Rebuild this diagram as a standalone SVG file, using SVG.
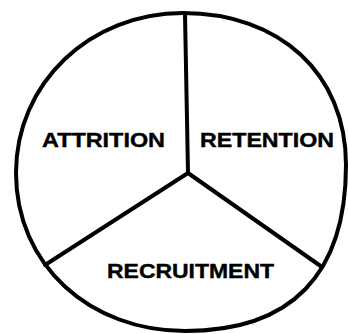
<svg xmlns="http://www.w3.org/2000/svg" width="348" height="334" viewBox="0 0 348 334">
  <style>
    .outline { fill: none; stroke: #000; stroke-width: 4; stroke-linecap: round; stroke-linejoin: round; }
    .label { font-family: "Liberation Sans", Arial, sans-serif; font-weight: bold; font-size: 20px; fill: #000; stroke: #000; stroke-width: 0.4; }
  </style>
  <rect width="348" height="334" fill="#fff"/>
  <g id="circle">
    <path class="outline" d="M183,13 C279,13 346,73 346,165 C346,275 291,331 185,331 C90,331 16,265 16,173 C16,83 90,13 183,13 Z"/>
  </g>
  <g id="dividers">
    <path class="outline" d="M185,14 L188,173 M188,173 L45,265 M188,173 L322,267"/>
  </g>
  <g id="attrition">
    <text class="label" x="42" y="147" textLength="123" lengthAdjust="spacingAndGlyphs">ATTRITION</text>
  </g>
  <g id="retention">
    <text class="label" x="200" y="147" textLength="134" lengthAdjust="spacingAndGlyphs">RETENTION</text>
  </g>
  <g id="recruitment">
    <text class="label" x="107" y="278" textLength="167" lengthAdjust="spacingAndGlyphs">RECRUITMENT</text>
  </g>
</svg>
